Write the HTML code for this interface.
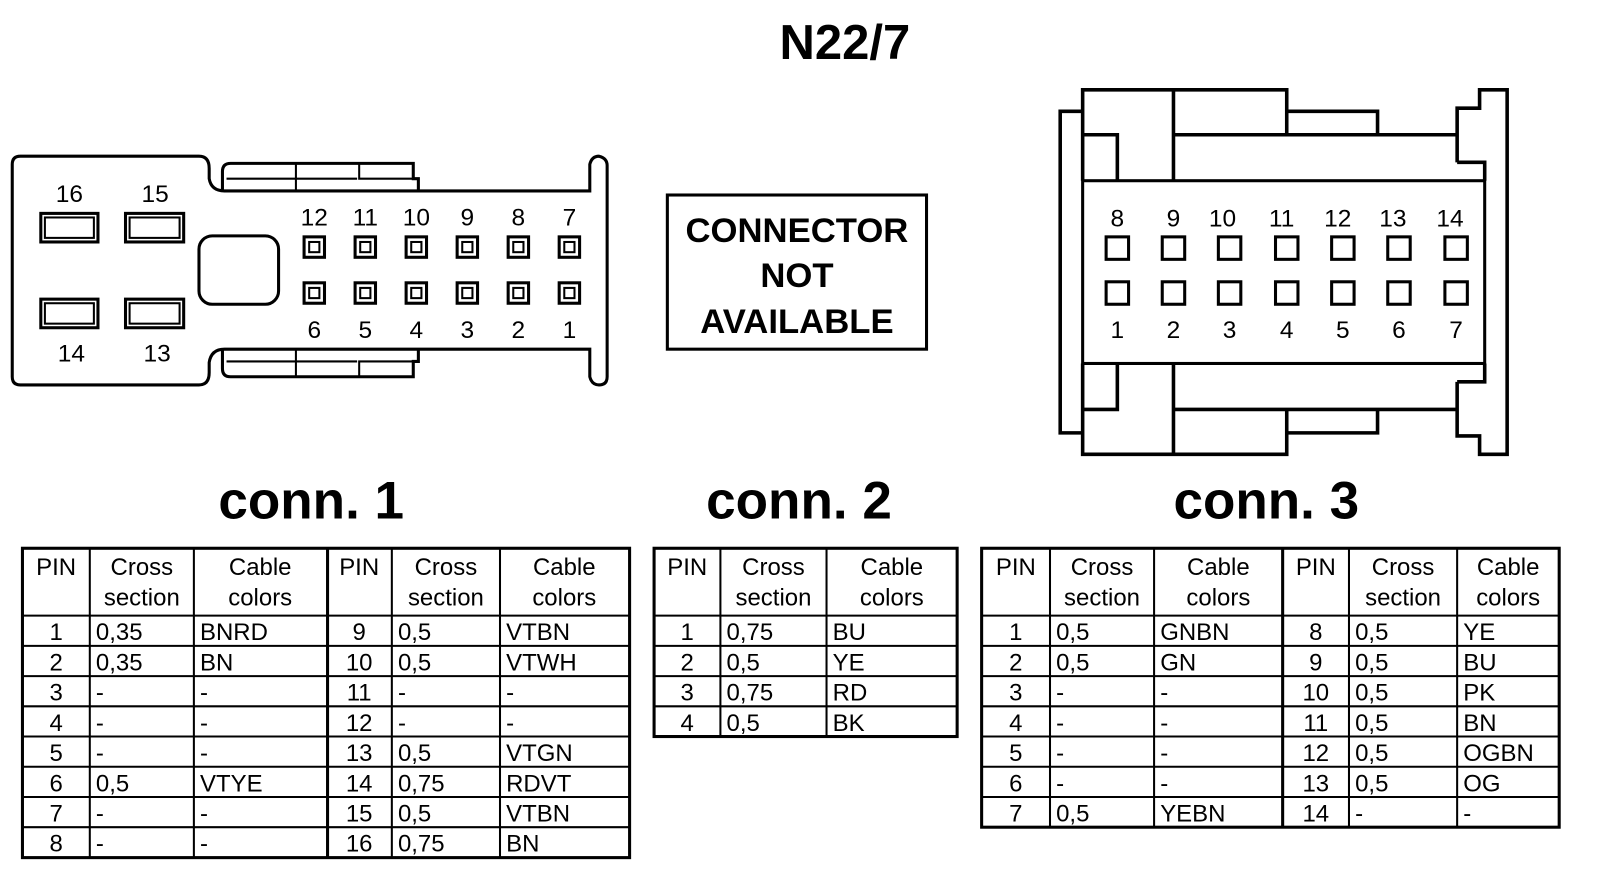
<!DOCTYPE html>
<html><head><meta charset="utf-8"><style>
html,body{margin:0;padding:0;background:#fff;}
svg{display:block}
text{font-family:"Liberation Sans",Arial,sans-serif;fill:#000}
.t{font-size:23.5px}
.c{text-anchor:middle}
.b{font-weight:bold}
</style></head><body>
<svg width="1600" height="876" viewBox="0 0 1568 858" preserveAspectRatio="none" xmlns="http://www.w3.org/2000/svg">
<rect width="1568" height="858" fill="#fff"/>
<text x="828" y="58" class="c b" font-size="48">N22/7</text>

<!-- Left connector -->
<g fill="none" stroke="#000" stroke-width="3">
<path d="M20,153 H195 Q205,153 205,165 V175 Q207,187 220,187 H578 V161 Q580,153 587,153 Q595,155 595,162 V369 Q595,377 587,377 Q580,377 578,369 V342 H220 Q207,342 205,355 V365 Q205,377 195,377 H20 Q12,377 12,369 V161 Q12,153 20,153 Z"/>
<path d="M218,187 V168 Q218,160 226,160 H405 V175 H410 V187"/>
<path d="M290,160 V187 M222,175 H350 M352,160 V175 H405" stroke-width="2"/>
<path d="M218,342 V361 Q218,369 226,369 H405 V354 H410 V342"/>
<path d="M290,369 V342 M222,354 H350 M352,369 V354 H405" stroke-width="2"/>
<rect x="195" y="231" width="78" height="67" rx="13"/>
<rect x="40" y="209" width="56" height="28"/><rect x="44" y="213" width="48" height="20" stroke-width="2"/>
<rect x="123" y="209" width="57" height="28"/><rect x="127" y="213" width="49" height="20" stroke-width="2"/>
<rect x="40" y="293" width="56" height="28"/><rect x="44" y="297" width="48" height="20" stroke-width="2"/>
<rect x="123" y="293" width="57" height="28"/><rect x="127" y="297" width="49" height="20" stroke-width="2"/>
</g>
<g fill="none" stroke="#000">
<g stroke-width="3">
<rect x="298" y="232" width="20" height="20"/><rect x="348" y="232" width="20" height="20"/><rect x="398" y="232" width="20" height="20"/><rect x="448" y="232" width="20" height="20"/><rect x="498" y="232" width="20" height="20"/><rect x="548" y="232" width="20" height="20"/>
<rect x="298" y="277" width="20" height="20"/><rect x="348" y="277" width="20" height="20"/><rect x="398" y="277" width="20" height="20"/><rect x="448" y="277" width="20" height="20"/><rect x="498" y="277" width="20" height="20"/><rect x="548" y="277" width="20" height="20"/>
</g>
<g stroke-width="2">
<rect x="303" y="237" width="10" height="10"/><rect x="353" y="237" width="10" height="10"/><rect x="403" y="237" width="10" height="10"/><rect x="453" y="237" width="10" height="10"/><rect x="503" y="237" width="10" height="10"/><rect x="553" y="237" width="10" height="10"/>
<rect x="303" y="282" width="10" height="10"/><rect x="353" y="282" width="10" height="10"/><rect x="403" y="282" width="10" height="10"/><rect x="453" y="282" width="10" height="10"/><rect x="503" y="282" width="10" height="10"/><rect x="553" y="282" width="10" height="10"/>
</g>
</g>
<g font-size="24" class="c">
<text x="68" y="198" class="c">16</text><text x="152" y="198" class="c">15</text>
<text x="70" y="354" class="c">14</text><text x="154" y="354" class="c">13</text>
<text x="308" y="221" class="c">12</text><text x="358" y="221" class="c">11</text><text x="408" y="221" class="c">10</text><text x="458" y="221" class="c">9</text><text x="508" y="221" class="c">8</text><text x="558" y="221" class="c">7</text>
<text x="308" y="331" class="c">6</text><text x="358" y="331" class="c">5</text><text x="408" y="331" class="c">4</text><text x="458" y="331" class="c">3</text><text x="508" y="331" class="c">2</text><text x="558" y="331" class="c">1</text>
</g>

<!-- Connector not available -->
<rect x="654" y="191" width="254" height="151" fill="none" stroke="#000" stroke-width="3"/>
<text x="781" y="237" class="c b" font-size="34">CONNECTOR</text>
<text x="781" y="281" class="c b" font-size="34">NOT</text>
<text x="781" y="326" class="c b" font-size="34">AVAILABLE</text>

<!-- Right connector -->
<g fill="none" stroke="#000" stroke-width="3.5">
<rect x="1061" y="177" width="394" height="179" stroke-width="3"/>
<path d="M1061,109 H1039 V424 H1061"/>
<path d="M1061,177 V88 H1261 V132 M1061,132 H1095 V177"/>
<path d="M1061,356 V445 H1261 V401 M1061,401 H1095 V356"/>
<path d="M1150,88 V177 M1150,356 V445"/>
<path d="M1261,109 H1350 V132 M1261,424 H1350 V401"/>
<path d="M1150,132 H1428 M1150,401 H1428"/>
<path d="M1428,159 V106 H1450 V88 H1477 V445 H1450 V427 H1428 V374 M1428,159 H1455 V177 M1428,374 H1455 V356"/>
</g>
<g fill="none" stroke="#000" stroke-width="3">
<rect x="1084" y="232" width="22" height="22"/><rect x="1139" y="232" width="22" height="22"/><rect x="1194" y="232" width="22" height="22"/><rect x="1250" y="232" width="22" height="22"/><rect x="1305" y="232" width="22" height="22"/><rect x="1360" y="232" width="22" height="22"/><rect x="1416" y="232" width="22" height="22"/>
<rect x="1084" y="276" width="22" height="22"/><rect x="1139" y="276" width="22" height="22"/><rect x="1194" y="276" width="22" height="22"/><rect x="1250" y="276" width="22" height="22"/><rect x="1305" y="276" width="22" height="22"/><rect x="1360" y="276" width="22" height="22"/><rect x="1416" y="276" width="22" height="22"/>
</g>
<g font-size="24">
<text x="1095" y="222" class="c">8</text><text x="1150" y="222" class="c">9</text><text x="1198" y="222" class="c">10</text><text x="1256" y="222" class="c">11</text><text x="1311" y="222" class="c">12</text><text x="1365" y="222" class="c">13</text><text x="1421" y="222" class="c">14</text>
<text x="1095" y="331" class="c">1</text><text x="1150" y="331" class="c">2</text><text x="1205" y="331" class="c">3</text><text x="1261" y="331" class="c">4</text><text x="1316" y="331" class="c">5</text><text x="1371" y="331" class="c">6</text><text x="1427" y="331" class="c">7</text>
</g>

<!-- conn labels -->
<text x="305" y="508" class="c b" font-size="52">conn. 1</text>
<text x="783" y="508" class="c b" font-size="52">conn. 2</text>
<text x="1241" y="508" class="c b" font-size="52">conn. 3</text>

<!-- Table 1 -->
<g fill="none" stroke="#000" stroke-width="2">
<path d="M22,603 H617 M22,632.6 H617 M22,662.2 H617 M22,691.8 H617 M22,721.4 H617 M22,751 H617 M22,780.6 H617 M22,810.2 H617"/>
<path d="M88,537 V840 M190,537 V840 M384,537 V840 M490,537 V840"/>
<path d="M321,537 V840" stroke-width="3"/>
<rect x="22" y="537" width="595" height="303" stroke-width="3"/>
</g>
<g class="t">
<text x="55" y="563" class="c">PIN</text><text x="139" y="563" class="c">Cross</text><text x="139" y="593" class="c">section</text><text x="255" y="563" class="c">Cable</text><text x="255" y="593" class="c">colors</text>
<text x="352" y="563" class="c">PIN</text><text x="437" y="563" class="c">Cross</text><text x="437" y="593" class="c">section</text><text x="553" y="563" class="c">Cable</text><text x="553" y="593" class="c">colors</text>
<text x="55" y="627" class="c">1</text><text x="94" y="627">0,35</text><text x="196" y="627">BNRD</text><text x="352" y="627" class="c">9</text><text x="390" y="627">0,5</text><text x="496" y="627">VTBN</text>
<text x="55" y="656.6" class="c">2</text><text x="94" y="656.6">0,35</text><text x="196" y="656.6">BN</text><text x="352" y="656.6" class="c">10</text><text x="390" y="656.6">0,5</text><text x="496" y="656.6">VTWH</text>
<text x="55" y="686.2" class="c">3</text><text x="94" y="686.2">-</text><text x="196" y="686.2">-</text><text x="352" y="686.2" class="c">11</text><text x="390" y="686.2">-</text><text x="496" y="686.2">-</text>
<text x="55" y="715.8" class="c">4</text><text x="94" y="715.8">-</text><text x="196" y="715.8">-</text><text x="352" y="715.8" class="c">12</text><text x="390" y="715.8">-</text><text x="496" y="715.8">-</text>
<text x="55" y="745.4" class="c">5</text><text x="94" y="745.4">-</text><text x="196" y="745.4">-</text><text x="352" y="745.4" class="c">13</text><text x="390" y="745.4">0,5</text><text x="496" y="745.4">VTGN</text>
<text x="55" y="775" class="c">6</text><text x="94" y="775">0,5</text><text x="196" y="775">VTYE</text><text x="352" y="775" class="c">14</text><text x="390" y="775">0,75</text><text x="496" y="775">RDVT</text>
<text x="55" y="804.6" class="c">7</text><text x="94" y="804.6">-</text><text x="196" y="804.6">-</text><text x="352" y="804.6" class="c">15</text><text x="390" y="804.6">0,5</text><text x="496" y="804.6">VTBN</text>
<text x="55" y="834.2" class="c">8</text><text x="94" y="834.2">-</text><text x="196" y="834.2">-</text><text x="352" y="834.2" class="c">16</text><text x="390" y="834.2">0,75</text><text x="496" y="834.2">BN</text>
</g>

<!-- Table 2 -->
<g fill="none" stroke="#000" stroke-width="2">
<path d="M641,603 H938 M641,632.6 H938 M641,662.2 H938 M641,691.8 H938"/>
<path d="M706,537 V721.4 M810,537 V721.4"/>
<rect x="641" y="537" width="297" height="184.4" stroke-width="3"/>
</g>
<g class="t">
<text x="673.5" y="563" class="c">PIN</text><text x="758" y="563" class="c">Cross</text><text x="758" y="593" class="c">section</text><text x="874" y="563" class="c">Cable</text><text x="874" y="593" class="c">colors</text>
<text x="673.5" y="627" class="c">1</text><text x="712" y="627">0,75</text><text x="816" y="627">BU</text>
<text x="673.5" y="656.6" class="c">2</text><text x="712" y="656.6">0,5</text><text x="816" y="656.6">YE</text>
<text x="673.5" y="686.2" class="c">3</text><text x="712" y="686.2">0,75</text><text x="816" y="686.2">RD</text>
<text x="673.5" y="715.8" class="c">4</text><text x="712" y="715.8">0,5</text><text x="816" y="715.8">BK</text>
</g>

<!-- Table 3 -->
<g fill="none" stroke="#000" stroke-width="2">
<path d="M962,603 H1528 M962,632.6 H1528 M962,662.2 H1528 M962,691.8 H1528 M962,721.4 H1528 M962,751 H1528 M962,780.6 H1528"/>
<path d="M1029,537 V810.2 M1131,537 V810.2 M1322,537 V810.2 M1428,537 V810.2"/>
<path d="M1257,537 V810.2" stroke-width="3"/>
<rect x="962" y="537" width="566" height="273.2" stroke-width="3"/>
</g>
<g class="t">
<text x="995.5" y="563" class="c">PIN</text><text x="1080" y="563" class="c">Cross</text><text x="1080" y="593" class="c">section</text><text x="1194" y="563" class="c">Cable</text><text x="1194" y="593" class="c">colors</text>
<text x="1289.5" y="563" class="c">PIN</text><text x="1375" y="563" class="c">Cross</text><text x="1375" y="593" class="c">section</text><text x="1478" y="563" class="c">Cable</text><text x="1478" y="593" class="c">colors</text>
<text x="995.5" y="627" class="c">1</text><text x="1035" y="627">0,5</text><text x="1137" y="627">GNBN</text><text x="1289.5" y="627" class="c">8</text><text x="1328" y="627">0,5</text><text x="1434" y="627">YE</text>
<text x="995.5" y="656.6" class="c">2</text><text x="1035" y="656.6">0,5</text><text x="1137" y="656.6">GN</text><text x="1289.5" y="656.6" class="c">9</text><text x="1328" y="656.6">0,5</text><text x="1434" y="656.6">BU</text>
<text x="995.5" y="686.2" class="c">3</text><text x="1035" y="686.2">-</text><text x="1137" y="686.2">-</text><text x="1289.5" y="686.2" class="c">10</text><text x="1328" y="686.2">0,5</text><text x="1434" y="686.2">PK</text>
<text x="995.5" y="715.8" class="c">4</text><text x="1035" y="715.8">-</text><text x="1137" y="715.8">-</text><text x="1289.5" y="715.8" class="c">11</text><text x="1328" y="715.8">0,5</text><text x="1434" y="715.8">BN</text>
<text x="995.5" y="745.4" class="c">5</text><text x="1035" y="745.4">-</text><text x="1137" y="745.4">-</text><text x="1289.5" y="745.4" class="c">12</text><text x="1328" y="745.4">0,5</text><text x="1434" y="745.4">OGBN</text>
<text x="995.5" y="775" class="c">6</text><text x="1035" y="775">-</text><text x="1137" y="775">-</text><text x="1289.5" y="775" class="c">13</text><text x="1328" y="775">0,5</text><text x="1434" y="775">OG</text>
<text x="995.5" y="804.6" class="c">7</text><text x="1035" y="804.6">0,5</text><text x="1137" y="804.6">YEBN</text><text x="1289.5" y="804.6" class="c">14</text><text x="1328" y="804.6">-</text><text x="1434" y="804.6">-</text>
</g>
</svg>
</body></html>
